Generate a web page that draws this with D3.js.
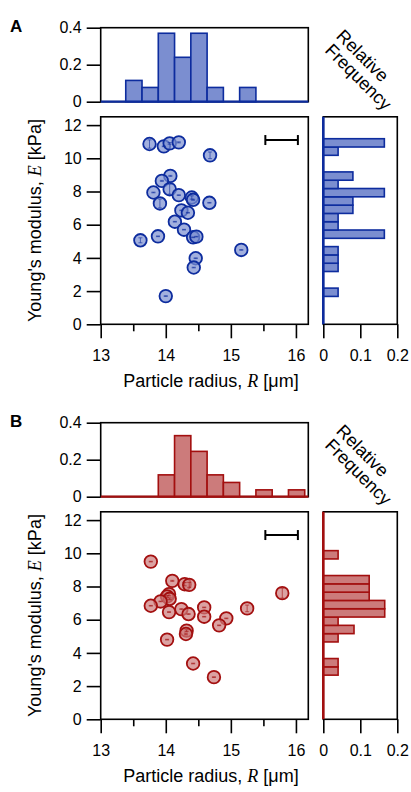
<!DOCTYPE html>
<html>
<head>
<meta charset="utf-8">
<script src="https://cdn.jsdelivr.net/npm/d3@7"></script>
<style>
  body { margin: 0; background: #fff; }
  svg text { font-family: "Liberation Sans", Arial, sans-serif; fill: #000; }
</style>
</head>
<body>
<div id="chart"></div>
<script>
// ---- data ----
var radiusTicks = [13, 14, 15, 16]
var radiusMinorTicks = [13.5, 14.5, 15.5]
var modulusTicks = [0, 2, 4, 6, 8, 10, 12]
var topFreqTicks = [0, 0.2, 0.4]
var sideFreqTicks = [0, 0.1, 0.2]

// radius histograms (bins of 0.25 um starting at 13.385)
var radiusBinStart = 13.385
var radiusBinWidth = 0.25
var radiusHistA = [0.115, 0.077, 0.37, 0.24, 0.37, 0.077, 0, 0.077]
var radiusHistB = [0, 0, 0.118, 0.33, 0.245, 0.118, 0.077, 0, 0.037, 0, 0.037]

// modulus histograms (bins of 0.5 kPa)
var modulusBinWidth = 0.5
var modulusBinStartA = 1.68
var modulusHistA = [0.04, 0, 0, 0.04, 0.04, 0.04, 0, 0.165, 0.04, 0.04, 0.08, 0.08, 0.165, 0.04, 0.08, 0, 0, 0.04, 0.165]
var modulusBinStartB = 2.66
var modulusHistB = [0.04, 0.04, 0, 0, 0.04, 0.083, 0.04, 0.166, 0.166, 0.124, 0.124, 0.124, 0, 0, 0.04]

// individual particles
var radiusA = [13.75, 13.97, 14.06, 14.20, 14.68, 14.07, 13.94, 14.06, 13.81, 14.20, 14.40, 14.42, 13.91,
               14.67, 14.24, 14.34, 14.14, 14.28, 13.88, 13.61, 14.42, 14.47, 15.16, 14.46, 14.43, 14.00]
var modulusA = [10.86, 10.72, 10.90, 10.96, 10.18, 8.94, 8.64, 8.14, 7.94, 7.78, 7.64, 7.50, 7.28,
                7.32, 6.86, 6.72, 6.18, 5.70, 5.30, 5.06, 5.24, 5.28, 4.48, 3.98, 3.42, 1.70]
var modulusErrA = [0.25, 0.02, 0.05, 0.03, 0.2, 0.03, 0.03, 0.3, 0.02, 0.02, 0.1, 0.03, 0.27,
                   0.02, 0.02, 0.02, 0.02, 0.02, 0.02, 0.15, 0.02, 0.02, 0.02, 0.02, 0.02, 0.02]

var radiusB = [13.77, 14.10, 14.29, 14.36, 14.05, 14.02, 14.06, 13.92, 13.77, 14.24, 14.59, 14.05,
               14.35, 14.59, 14.93, 14.82, 15.25, 15.79, 14.32, 14.31, 14.02, 14.42, 14.74]
var modulusB = [9.50, 8.34, 8.14, 8.10, 7.54, 7.40, 7.26, 7.10, 6.84, 6.64, 6.74, 6.46,
                6.34, 6.18, 6.08, 5.66, 6.68, 7.60, 5.34, 5.14, 4.80, 3.36, 2.54]
var modulusErrB = [0.02, 0.03, 0.1, 0.15, 0.1, 0.05, 0.05, 0.02, 0.02, 0.02, 0.02, 0.02,
                   0.02, 0.02, 0.02, 0.02, 0.2, 0.3, 0.05, 0.05, 0.02, 0.02, 0.02]

// scale bar in upper right of each scatter (radius units)
var scaleBarR = [15.53, 16.03]
var scaleBarE = 11.1

// ---- layout ----
var width = 411, height = 792
var panelShift = 395
var lineW = 1.6

var svg = d3.select("#chart").append("svg")
  .attr("width", width)
  .attr("height", height)

var x = d3.scaleLinear().domain([13, 16.19]).range([100.7, 308.3])
var xSide = d3.scaleLinear().domain([0, 0.2]).range([323.3, 397.3])

function styleAxis(g, size){
  g.selectAll("path").style("stroke", "#000").style("stroke-width", lineW)
  g.selectAll("line").style("stroke", "#000").style("stroke-width", lineW)
  g.selectAll("text").style("font-size", size + "px")
    .style("font-family", "'Liberation Sans', Arial, sans-serif")
}

function fmt(d){ return d === 0 ? "0" : String(d) }

// keep the bin index with each value, drop the empty bins
function toBins(vals, start, w){
  return vals.map(function(v, i){ return {v: v, lo: start + i*w, hi: start + (i+1)*w} })
    .filter(function(d){ return d.v > 0 })
}

function drawPanel(oy, letter, radius, modulus, modErr, rHist, mHist, mStart, fillCol, strokeCol){
  var yTop = d3.scaleLinear().domain([0, 0.4]).range([101.7 + oy, 27.7 + oy])
  var y = d3.scaleLinear().domain([0, 12.5]).range([324.3 + oy, 116.8 + oy])

  var g = svg.append("g")

  // panel letter
  g.append("text")
    .attr("x", 10)
    .attr("y", 32 + oy)
    .style("font-size", "17px")
    .style("font-weight", "bold")
    .text(letter)

  // ---- top histogram (radius) ----
  g.append("rect")
    .attr("x", x.range()[0]).attr("y", yTop(0.4))
    .attr("width", x.range()[1] - x.range()[0])
    .attr("height", yTop(0) - yTop(0.4))
    .style("fill", "none").style("stroke", "#000").style("stroke-width", lineW)

  g.append("g").selectAll("rect").data(toBins(rHist, radiusBinStart, radiusBinWidth)).enter().append("rect")
    .attr("x", function(d){ return x(d.lo) })
    .attr("y", function(d){ return yTop(d.v) })
    .attr("width", function(d){ return x(d.hi) - x(d.lo) })
    .attr("height", function(d){ return yTop(0) - yTop(d.v) })
    .style("fill", fillCol).style("stroke", strokeCol).style("stroke-width", 1.6)

  g.append("line")
    .attr("x1", x.range()[0]).attr("x2", x.range()[1])
    .attr("y1", yTop(0)).attr("y2", yTop(0))
    .style("stroke", strokeCol).style("stroke-width", 2.2)

  var axTop = g.append("g")
    .attr("transform", `translate(${x.range()[0]},0)`)
    .call(d3.axisLeft(yTop).tickValues(topFreqTicks).tickFormat(fmt).tickSize(14).tickPadding(5).tickSizeOuter(0))
  axTop.select(".domain").remove()
  styleAxis(axTop, 16)

  // ---- scatter ----
  g.append("rect")
    .attr("x", x.range()[0]).attr("y", y(12.5))
    .attr("width", x.range()[1] - x.range()[0])
    .attr("height", y(0) - y(12.5))
    .style("fill", "none").style("stroke", "#000").style("stroke-width", lineW)

  var axY = g.append("g")
    .attr("transform", `translate(${x.range()[0]},0)`)
    .call(d3.axisLeft(y).tickValues(modulusTicks).tickFormat(fmt).tickSize(14).tickPadding(5).tickSizeOuter(0))
  axY.select(".domain").remove()
  styleAxis(axY, 16)

  var axX = g.append("g")
    .attr("transform", `translate(0,${y(0)})`)
    .call(d3.axisBottom(x).tickValues(radiusTicks).tickFormat(fmt).tickSize(14).tickPadding(11).tickSizeOuter(0))
  axX.select(".domain").remove()
  styleAxis(axX, 16)

  var axXminor = g.append("g")
    .attr("transform", `translate(0,${y(0)})`)
    .call(d3.axisBottom(x).tickValues(radiusMinorTicks).tickSize(7).tickFormat("").tickSizeOuter(0))
  axXminor.select(".domain").remove()
  styleAxis(axXminor, 16)

  // scale bar
  var sb = g.append("g").style("stroke", "#000").style("stroke-width", 2)
  sb.append("line").attr("x1", x(scaleBarR[0])).attr("x2", x(scaleBarR[1]))
    .attr("y1", y(scaleBarE)).attr("y2", y(scaleBarE))
  scaleBarR.forEach(function(r){
    sb.append("line").attr("x1", x(r)).attr("x2", x(r))
      .attr("y1", y(scaleBarE) - 5).attr("y2", y(scaleBarE) + 5)
  })

  // points
  var pts = radius.map(function(r, i){ return {r: r, e: modulus[i], err: modErr[i]} })
  var pg = g.append("g")
  pg.selectAll("circle").data(pts).enter().append("circle")
    .attr("cx", function(d){ return x(d.r) })
    .attr("cy", function(d){ return y(d.e) })
    .attr("r", 6.3)
    .style("fill", fillCol).style("fill-opacity", 0.7)
    .style("stroke", strokeCol).style("stroke-width", 1.8)

  // small vertical error bars with caps
  var eg = g.append("g").style("stroke", strokeCol).style("stroke-width", 1).style("stroke-opacity", 0.6)
  pts.forEach(function(d){
    var cx = x(d.r), y1 = y(d.e - d.err), y2 = y(d.e + d.err)
    eg.append("line").attr("x1", cx).attr("x2", cx).attr("y1", y1).attr("y2", y2)
    eg.append("line").attr("x1", cx - 2).attr("x2", cx + 2).attr("y1", y1).attr("y2", y1)
    eg.append("line").attr("x1", cx - 2).attr("x2", cx + 2).attr("y1", y2).attr("y2", y2)
  })

  // ---- side histogram (modulus) ----
  g.append("rect")
    .attr("x", xSide.range()[0]).attr("y", y(12.5))
    .attr("width", xSide.range()[1] - xSide.range()[0])
    .attr("height", y(0) - y(12.5))
    .style("fill", "none").style("stroke", "#000").style("stroke-width", lineW)

  g.append("g").selectAll("rect").data(toBins(mHist, mStart, modulusBinWidth)).enter().append("rect")
    .attr("x", xSide(0))
    .attr("y", function(d){ return y(d.hi) })
    .attr("width", function(d){ return xSide(d.v) - xSide(0) })
    .attr("height", function(d){ return y(d.lo) - y(d.hi) })
    .style("fill", fillCol).style("stroke", strokeCol).style("stroke-width", 1.6)

  g.append("line")
    .attr("x1", xSide(0)).attr("x2", xSide(0))
    .attr("y1", y(12.5)).attr("y2", y(0))
    .style("stroke", strokeCol).style("stroke-width", 2.6)

  var axSide = g.append("g")
    .attr("transform", `translate(0,${y(0)})`)
    .call(d3.axisBottom(xSide).tickValues(sideFreqTicks).tickFormat(fmt).tickSize(14).tickPadding(11).tickSizeOuter(0))
  axSide.select(".domain").remove()
  styleAxis(axSide, 16)

  // ---- axis titles ----
  var yl = g.append("text")
    .attr("transform", `translate(41,${(y(0) + y(12.5))/2}) rotate(-90)`)
    .attr("text-anchor", "middle")
    .style("font-size", "18px")
  yl.append("tspan").text("Young's modulus, ")
  yl.append("tspan").style("font-family", "'Liberation Serif', serif").style("font-style", "italic").text("E")
  yl.append("tspan").text(" [kPa]")

  var xl = g.append("text")
    .attr("x", 211)
    .attr("y", 387 + oy)
    .attr("text-anchor", "middle")
    .style("font-size", "18px")
  xl.append("tspan").text("Particle radius, ")
  xl.append("tspan").style("font-family", "'Liberation Serif', serif").style("font-style", "italic").text("R")
  xl.append("tspan").text(" [\u03bcm]")

  var rf = g.append("g")
    .attr("transform", `translate(359,${65 + oy}) rotate(45)`)
  rf.append("text").attr("x", -4).attr("y", -3).attr("text-anchor", "middle")
    .style("font-size", "18px").text("Relative")
  rf.append("text").attr("x", 8).attr("y", 15).attr("text-anchor", "middle")
    .style("font-size", "18px").text("Frequency")
}

drawPanel(0, "A", radiusA, modulusA, modulusErrA, radiusHistA, modulusHistA, modulusBinStartA, "#7b8ed0", "#0d2c9e")
drawPanel(panelShift, "B", radiusB, modulusB, modulusErrB, radiusHistB, modulusHistB, modulusBinStartB, "#cc7b7b", "#a30f0f")
</script>
</body>
</html>
